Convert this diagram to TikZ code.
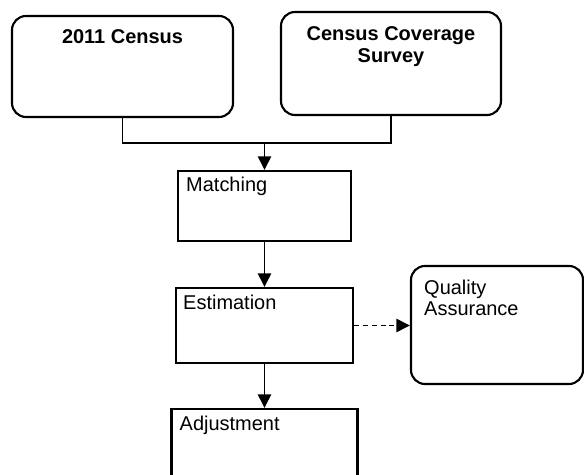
\documentclass[tikz,border=0pt]{standalone}
\usepackage{fontspec}
\setmainfont{Liberation Sans}
\usetikzlibrary{positioning,arrows.meta,calc}
\tikzset{
  src/.style ={draw=black, line width=1.5pt, rounded corners=0.35cm, inner sep=0pt},
  proc/.style={draw=black, line width=1.5pt, inner sep=0pt},
  hd/.style  ={font=\bfseries\fontsize{14.2pt}{16.3pt}\selectfont, inner sep=0pt, align=center},
  lbl/.style ={font=\fontsize{14.2pt}{15.6pt}\selectfont, inner sep=0pt, align=left},
  flow/.style={-{Triangle[length=3.4mm,width=3.3mm]}, line width=1.4pt},
  aux/.style ={flow, dash pattern=on 3.5pt off 2.8pt},
}
\begin{document}
\begin{tikzpicture}
  \clip (0,0) rectangle (14.6,-11.875);
  % boxes
  \node[src, minimum width=5.525cm, minimum height=2.525cm] (census) at (3.0625,-1.6625) {};
  \node[src, minimum width=5.5cm, minimum height=2.575cm]   (ccs)    at (9.775,-1.5875) {};
  \node[proc, minimum width=4.325cm, minimum height=1.75cm] (match)  at (6.6125,-5.15) {};
  \node[proc, minimum width=4.425cm, minimum height=1.875cm] (estim) at (6.6125,-8.1375) {};
  \node[src, minimum width=4.3cm, minimum height=2.95cm]    (qa)     at (12.425,-8.125) {};
  \node[proc, minimum width=4.65cm, minimum height=2.025cm] (adjust) at (6.6125,-11.2375) {};
  % texts (base = last line)
  \node[hd, anchor=base] (censustxt) at ($(census.north)+(0,-0.725)$) {2011 Census};
  \node[hd, anchor=base] (ccstxt) at ($(ccs.north)+(0,-1.3)$) {Census Coverage\\Survey};
  \node[lbl, anchor=base west] (matchtxt) at ($(match.north west)+(0.225,-0.55)$) {Matching};
  \node[lbl, anchor=base west] (estimtxt) at ($(estim.north west)+(0.2,-0.575)$) {Estimation};
  \node[lbl, anchor=base west] (qatxt) at ($(qa.north west)+(0.35,-1.275)$) {Quality\\Assurance};
  \node[lbl, anchor=base west] (adjusttxt) at ($(adjust.north west)+(0.225,-0.575)$) {Adjustment};
  % connectors
  \coordinate (join) at (6.6125,-3.575);
  \draw[line width=1.4pt] (census.south) |- (join) -| (ccs.south);
  \draw[flow] (join) -- (match);
  \draw[flow] (match) -- (estim);
  \draw[flow] (estim) -- (adjust);
  \draw[aux] (estim.east) -- (estim.east -| qa.west);
\end{tikzpicture}
\end{document}
